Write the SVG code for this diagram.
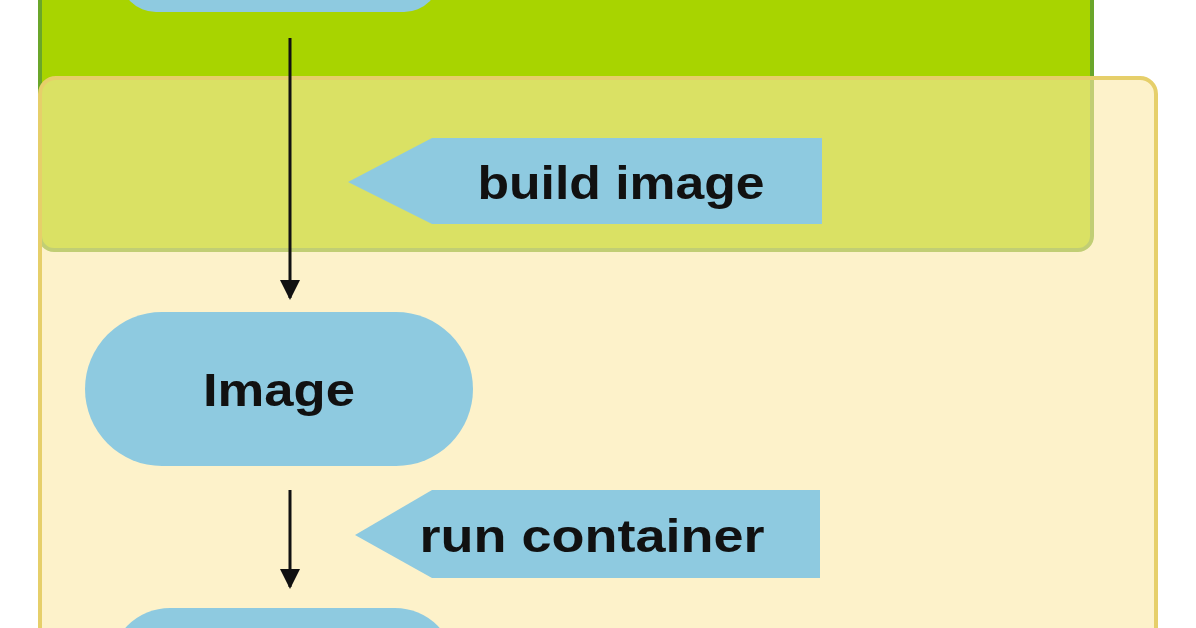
<svg xmlns="http://www.w3.org/2000/svg" width="1196" height="628" viewBox="0 0 1196 628">
<defs>
<marker id="ah" markerWidth="20" markerHeight="22" refX="18" refY="10" orient="auto" markerUnits="userSpaceOnUse" viewBox="0 0 20 20"><path d="M0,0 L20,10 L0,20 z" fill="#111"/></marker>
<style>
.pill{fill:#8ecae0}
.lbl{font-family:"Liberation Sans",Arial,sans-serif;font-weight:bold;font-size:46px;fill:#111;text-anchor:middle}
.edge{stroke:#111;stroke-width:3;fill:none;marker-end:url(#ah)}
</style>
</defs>
<rect width="1196" height="628" fill="#fff"/>
<g id="green-group"><rect x="40" y="-40" width="1052" height="290" rx="14" fill="#a8d400" stroke="#6aa62a" stroke-width="4"/></g>
<g id="yellow-group"><rect x="40" y="78" width="1116" height="600" rx="16" fill="#fbe9a6" fill-opacity="0.6" stroke="#e6cf6a" stroke-width="4"/></g>
<g id="top-node"><rect x="120" y="-60" width="320" height="72" rx="36" class="pill"/></g>
<g id="build-image"><polygon points="348,182 432,138 822,138 822,224 432,224" class="pill"/><text x="621" y="199" class="lbl" textLength="287" lengthAdjust="spacingAndGlyphs">build image</text></g>
<g id="image"><rect x="85" y="312" width="388" height="154" rx="77" class="pill"/><text x="279" y="406" class="lbl" textLength="152" lengthAdjust="spacingAndGlyphs">Image</text></g>
<g id="run-container"><polygon points="355,535 432,490 820,490 820,578 432,578" class="pill"/><text x="592" y="552" class="lbl" textLength="345" lengthAdjust="spacingAndGlyphs">run container</text></g>
<g id="bottom-node"><rect x="110" y="608" width="345" height="120" rx="60" class="pill"/></g>
<g id="connectors">
<line x1="290" y1="38" x2="290" y2="298" class="edge"/>
<line x1="290" y1="490" x2="290" y2="587" class="edge"/>
</g>
</svg>
